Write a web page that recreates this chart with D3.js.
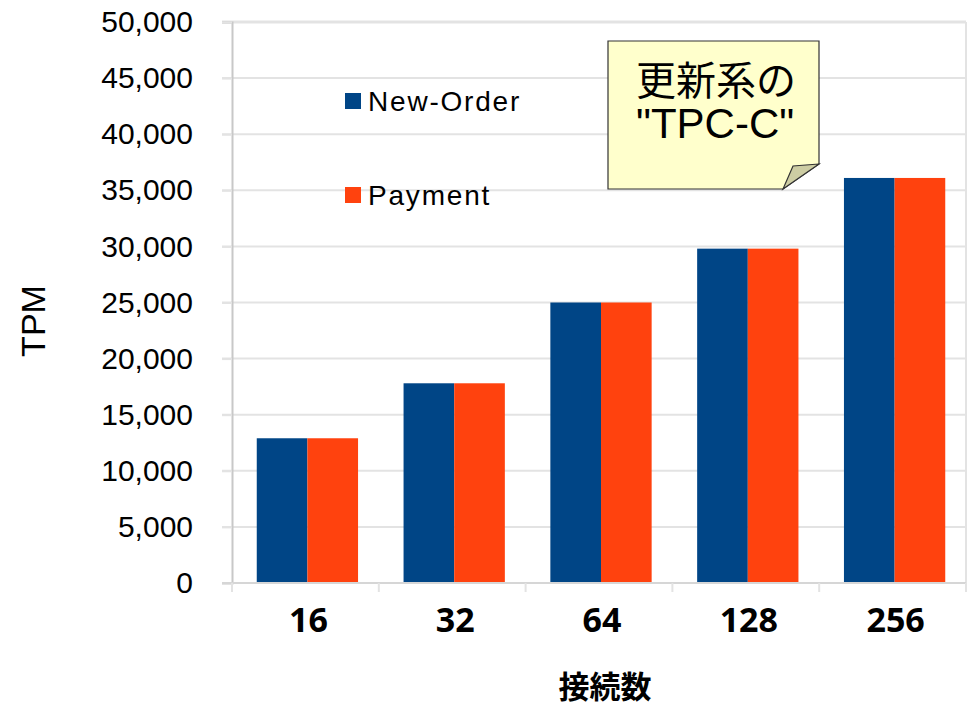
<!DOCTYPE html>
<html>
<head>
<meta charset="utf-8">
<script src="https://cdn.jsdelivr.net/npm/d3@7"></script>
<style>
  body { margin: 0; background: #fff; }
  svg { display: block; }
</style>
</head>
<body>
<svg id="chart" width="971" height="706"></svg>
<script>
// chart values
var categories = ["16", "32", "64", "128", "256"];
var newOrder = [12900, 17800, 25000, 29800, 36100];
var payment = [12900, 17800, 25000, 29800, 36100];
var seriesNames = ["New-Order", "Payment"];
var yTicks = [0, 5000, 10000, 15000, 20000, 25000, 30000, 35000, 40000, 45000, 50000];
var note = ["更新系の", "\"TPC-C\""];

var colors = ["#004586", "#ff420e"];
var svg = d3.select("#chart");

// plot box (note: "top" is reserved on window, so use other names)
var plotLeft = 232, plotRight = 966, plotTop = 22, plotBottom = 583;

var x = d3.scaleBand().domain(categories).range([plotLeft + 2, plotRight + 2])
  .paddingInner(0.31).paddingOuter(0.155);
var xs = d3.scaleBand().domain(seriesNames).range([0, x.bandwidth()]);
var y = d3.scaleLinear().domain([0, 50000]).range([plotBottom, plotTop]);

// gridlines
svg.append("g").selectAll("line")
  .data(yTicks)
  .enter().append("line")
  .attr("x1", plotLeft - 10).attr("x2", plotRight)
  .attr("y1", function(d) { return y(d); })
  .attr("y2", function(d) { return y(d); })
  .attr("stroke", "#e3e3e3")
  .attr("stroke-width", function(d) { return d == 50000 ? 3 : 2; });

// right border
svg.append("line")
  .attr("x1", plotRight).attr("x2", plotRight)
  .attr("y1", plotTop).attr("y2", plotBottom + 8)
  .attr("stroke", "#e3e3e3").attr("stroke-width", 2);

// bars
var rows = categories.map(function(c, i) { return {cat: c, vals: [newOrder[i], payment[i]]}; });
svg.append("g").selectAll("g")
  .data(rows)
  .enter().append("g")
  .attr("transform", function(d) { return "translate(" + x(d.cat) + ",0)"; })
  .selectAll("rect")
  .data(function(d) { return d.vals.map(function(v, j) { return {name: seriesNames[j], v: v, j: j}; }); })
  .enter().append("rect")
  .attr("x", function(d) { return xs(d.name); })
  .attr("width", xs.bandwidth())
  .attr("y", function(d) { return y(d.v); })
  .attr("height", function(d) { return plotBottom - y(d.v); })
  .attr("fill", function(d) { return colors[d.j]; });

// y axis
var yAxis = svg.append("g")
  .attr("transform", "translate(" + plotLeft + ",0)")
  .call(d3.axisLeft(y).tickValues(yTicks).tickFormat(d3.format(",")).tickSize(10).tickPadding(29));
yAxis.select(".domain").attr("stroke", "#c8c8c8").attr("stroke-width", 2);
yAxis.selectAll(".tick line").attr("stroke", "#e3e3e3").attr("stroke-width", 2);
yAxis.selectAll("text")
  .attr("font-family", "Liberation Sans, Arial, sans-serif")
  .attr("font-size", 30).attr("fill", "#000");

// x axis line and boundary ticks between categories
svg.append("line")
  .attr("x1", plotLeft - 10).attr("x2", plotRight)
  .attr("y1", plotBottom).attr("y2", plotBottom)
  .attr("stroke", "#d6d6d6").attr("stroke-width", 2);
var bounds = categories.map(function(c, i) { return plotLeft + i * x.step(); });
bounds.push(plotRight);
svg.append("g").selectAll("line")
  .data(bounds)
  .enter().append("line")
  .attr("x1", function(d) { return d; }).attr("x2", function(d) { return d; })
  .attr("y1", plotBottom).attr("y2", plotBottom + 9)
  .attr("stroke", "#e3e3e3").attr("stroke-width", 2);

var xAxis = svg.append("g")
  .attr("transform", "translate(0," + plotBottom + ")")
  .call(d3.axisBottom(x).tickSize(0).tickPadding(25));
xAxis.select(".domain").remove();
xAxis.selectAll("text")
  .attr("font-family", "Noto Sans, DejaVu Sans, sans-serif")
  .attr("font-weight", "bold")
  .attr("font-size", 34).attr("fill", "#000")
  .attr("dx", 1);

// axis titles
svg.append("text")
  .attr("transform", "translate(45,321) rotate(-90)")
  .attr("text-anchor", "middle")
  .attr("font-family", "Liberation Sans, Arial, sans-serif")
  .attr("font-size", 34)
  .text("TPM");

svg.append("text")
  .attr("x", 605).attr("y", 698)
  .attr("text-anchor", "middle")
  .attr("font-family", "Noto Sans CJK JP, sans-serif")
  .attr("font-weight", "bold")
  .attr("font-size", 31)
  .text("接続数");

// legend
var legend = svg.append("g").selectAll("g")
  .data(seriesNames)
  .enter().append("g")
  .attr("transform", function(d, i) { return "translate(345," + (93 + i * 94) + ")"; });
legend.append("rect")
  .attr("width", 16).attr("height", 16)
  .attr("fill", function(d, i) { return colors[i]; });
legend.append("text")
  .attr("x", 23).attr("y", 8)
  .attr("dominant-baseline", "central")
  .attr("font-family", "Liberation Sans, Arial, sans-serif")
  .attr("font-size", 28)
  .attr("letter-spacing", 1.8)
  .text(function(d) { return d; });

// sticky note callout
var noteG = svg.append("g");
noteG.append("path")
  .attr("d", "M608,41 L819,41 L819,164 L783,189 L608,189 Z")
  .attr("fill", "#ffffcc").attr("stroke", "#333").attr("stroke-width", 1.2);
noteG.append("path")
  .attr("d", "M819,164 L793,166 L783,189 Z")
  .attr("fill", "#cdcda3").attr("stroke", "#333").attr("stroke-width", 1.2);
noteG.append("text")
  .attr("x", 636).attr("y", 95)
  .attr("font-family", "Noto Sans CJK JP, sans-serif")
  .attr("font-size", 40)
  .text(note[0]);
noteG.append("text")
  .attr("x", 636).attr("y", 138)
  .attr("font-family", "Liberation Sans, Arial, sans-serif")
  .attr("font-size", 42)
  .text(note[1]);
</script>
</body>
</html>
